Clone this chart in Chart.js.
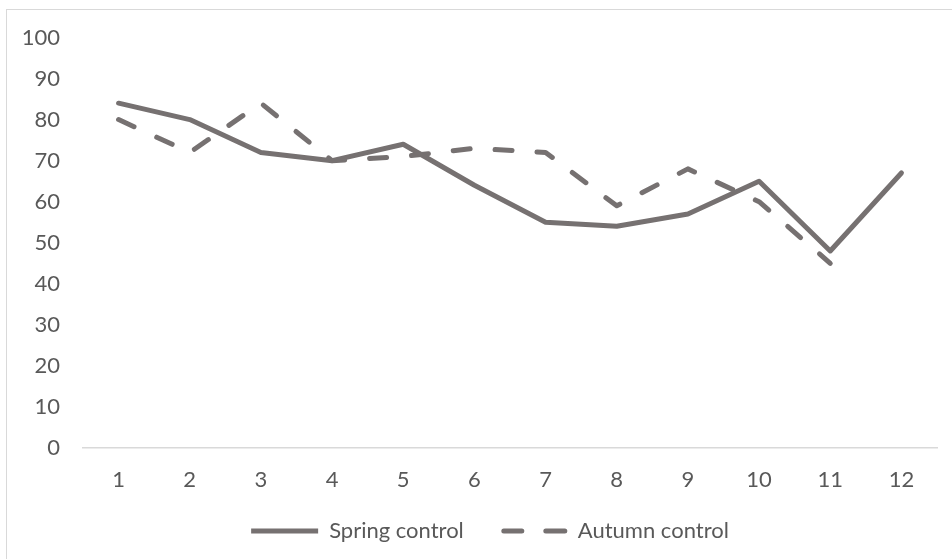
<!DOCTYPE html>
<html>
<head>
<meta charset="utf-8">
<script src="https://cdn.jsdelivr.net/npm/chart.js@4"></script>
<style>
  html, body { margin: 0; padding: 0; background: #fff; overflow: hidden; }
  #frame { position: absolute; left: 6px; top: 9px; width: 980px; height: 600px; border: 1px solid #d9d9d9; }
  #wrap { position: absolute; left: 0; top: 0; width: 952px; height: 559px; }
</style>
</head>
<body>
<div id="frame"></div>
<div id="wrap"><canvas id="chart" width="952" height="559"></canvas></div>
<script>
const months = ["1", "2", "3", "4", "5", "6", "7", "8", "9", "10", "11", "12"];
const springControl = [84, 80, 72, 70, 74, 64, 55, 54, 57, 65, 48, 67];
const autumnControl = [80, 72, 84, 70, 71, 73, 72, 59, 68, 60, 45, null];
const yTicks = [0, 10, 20, 30, 40, 50, 60, 70, 80, 90, 100];

const grey = "#767171";
const textGrey = "#595959";
const font = { family: "Lato", size: 22 };

// the legend in the original sits a bit right of the plot centre and tucks up under the labels
const shiftLegend = {
    id: "shiftLegend",
    afterLayout(chart) {
        const lg = chart.legend;
        lg.left += 21.5;
        lg.right += 21.5;
        lg.top -= 7;
        lg.bottom -= 7;
    }
};

document.addEventListener("DOMContentLoaded", function () {
    const ctx = document.getElementById("chart").getContext("2d");

    new Chart(ctx, {
        type: "line",
        data: {
            labels: months,
            datasets: [{
                label: "Spring control",
                data: springControl,
                borderColor: grey,
                backgroundColor: grey,
                borderWidth: 5,
                borderCapStyle: "round",
                borderJoinStyle: "round",
                pointRadius: 0,
                tension: 0
            }, {
                label: "Autumn control",
                data: autumnControl,
                borderColor: grey,
                backgroundColor: grey,
                borderWidth: 5,
                borderDash: [17, 25],
                borderCapStyle: "round",
                borderJoinStyle: "round",
                pointRadius: 0,
                tension: 0
            }]
        },
        plugins: [shiftLegend],
        options: {
            responsive: false,
            animation: false,
            layout: {
                padding: { left: 0, right: 15, top: 37.5, bottom: 0 }
            },
            plugins: {
                tooltip: { enabled: false },
                legend: {
                    position: "bottom",
                    labels: {
                        boxWidth: 67,
                        boxHeight: 0,
                        padding: 36,
                        color: textGrey,
                        font: font,
                        generateLabels: function (chart) {
                            return chart.data.datasets.map((ds, i) => ({
                                text: ds.label,
                                fillStyle: "rgba(0,0,0,0)",
                                strokeStyle: grey,
                                lineWidth: 5,
                                lineCap: "round",
                                // two dashes on the way out, nothing on the way back
                                lineDash: ds.borderDash ? [18, 24, 19, 300] : [],
                                lineDashOffset: ds.borderDash ? -4 : 0,
                                fontColor: textGrey,
                                datasetIndex: i
                            }));
                        }
                    }
                }
            },
            scales: {
                x: {
                    offset: true,
                    grid: { display: false, drawTicks: false, offset: true },
                    border: { display: true, color: "#d9d9d9", width: 1.5 },
                    ticks: { color: textGrey, font: font, padding: 19, maxRotation: 0 },
                    afterFit: function (scale) { scale.height = 43; }
                },
                y: {
                    min: 0,
                    max: 100,
                    afterBuildTicks: function (scale) {
                        scale.ticks = yTicks.map(v => ({ value: v }));
                    },
                    grid: { display: false, drawTicks: false },
                    border: { display: false },
                    ticks: { color: textGrey, font: font, padding: 23 },
                    afterFit: function (scale) { scale.width = 83; }
                }
            }
        }
    });
});
</script>
</body>
</html>
